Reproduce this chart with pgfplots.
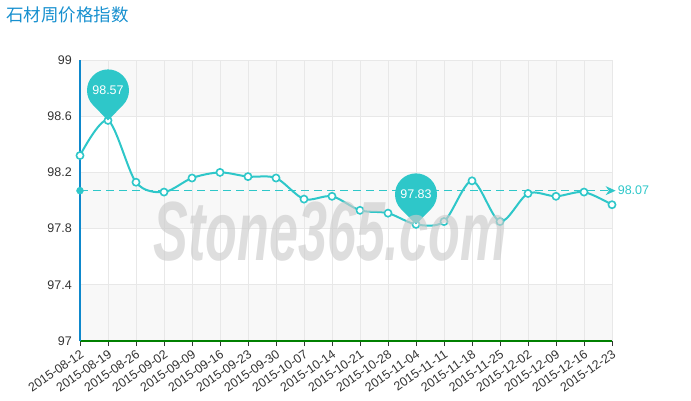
\documentclass[border=0pt]{standalone}
\usepackage{pgfplots}
\pgfplotsset{compat=1.18}
\usetikzlibrary{arrows.meta}
\usepackage{fontspec}
\setmainfont{Liberation Sans}
\newfontfamily\cjk{Noto Sans CJK SC}
\definecolor{turq}{HTML}{2EC7C9}
\definecolor{titleblue}{HTML}{1790CF}
\definecolor{axblue}{HTML}{0E88CC}
\definecolor{axgreen}{HTML}{008000}
\definecolor{gridc}{HTML}{E8E8E8}
\definecolor{bandc}{HTML}{F8F8F8}
\definecolor{labc}{HTML}{333333}
% teardrop pin, tip at the data point
\pgfdeclareplotmark{pin}{%
  \pgfpathmoveto{\pgfpoint{0pt}{0pt}}%
  \pgfpathlineto{\pgfpoint{15pt}{15.3pt}}%
  \pgfpatharc{-44.43}{224.43}{21pt}%
  \pgfpathclose
  \pgfusepathqfill
}
\begin{document}
\begin{tikzpicture}
\node[anchor=west, text=titleblue, font=\cjk\fontsize{17.5}{20}\selectfont, inner sep=0pt] at (6pt,385pt) {石材周价格指数};
\begin{axis}[
  at={(80pt,59pt)}, anchor=south west,
  scale only axis, width=532pt, height=281pt,
  set layers=standard,
  clip=false,
  xmin=0, xmax=19, ymin=97, ymax=99,
  xtick={0,...,19},
  xticklabels={2015-08-12,2015-08-19,2015-08-26,2015-09-02,2015-09-09,2015-09-16,2015-09-23,2015-09-30,2015-10-07,2015-10-14,2015-10-21,2015-10-28,2015-11-04,2015-11-11,2015-11-18,2015-11-25,2015-12-02,2015-12-09,2015-12-16,2015-12-23},
  ytick={97,97.4,97.8,98.2,98.6,99},
  yticklabels={97,97.4,97.8,98.2,98.6,99},
  axis x line*=bottom, axis y line*=left,
  x axis line style={draw=axgreen, line width=2pt},
  y axis line style={draw=axblue, line width=2pt},
  grid=major,
  major grid style={draw=gridc, line width=0.8pt},
  tick align=outside,
  major tick length=5pt,
  xtick style={draw=labc, line width=0.8pt},
  ytick style={draw=none},
  tick label style={text=labc, font=\fontsize{12.5}{14}\selectfont},
  xticklabel style={rotate=35, anchor=north east, inner sep=2pt},
  yticklabel style={inner sep=3pt},
  /pgf/number format/assume math mode=true,
]
\addplot[draw=none, fill=bandc, on layer=axis background] coordinates {(0,98.6) (19,98.6) (19,99) (0,99)} -- cycle;
\addplot[draw=none, fill=bandc, on layer=axis background] coordinates {(0,97.8) (19,97.8) (19,98.2) (0,98.2)} -- cycle;
\addplot[draw=none, fill=bandc, on layer=axis background] coordinates {(0,97) (19,97) (19,97.4) (0,97.4)} -- cycle;
% average line
\addplot[turq, line width=1.3pt, dash pattern=on 8pt off 5pt, -{Stealth[length=10pt,width=9pt]}]
  coordinates {(0,98.07) (19.13,98.07)};
\node[anchor=west, text=turq, inner sep=2pt, font=\fontsize{12.5}{14}\selectfont] at (axis cs:19.13,98.07) {98.07};
\addplot[only marks, mark=*, mark size=3.5pt, turq] coordinates {(0,98.07)};
% weekly index
\addplot[turq, line width=2pt, smooth, mark=*, mark size=3.6pt, mark options={fill=white, draw=turq, line width=1.6pt}]
coordinates {
(0,98.32) (1,98.57) (2,98.13) (3,98.06) (4,98.16) (5,98.20) (6,98.17) (7,98.16)
(8,98.01) (9,98.03) (10,97.93) (11,97.91) (12,97.83) (13,97.85) (14,98.14) (15,97.85)
(16,98.05) (17,98.03) (18,98.06) (19,97.97)
};
% max / min pins
\addplot[only marks, mark=pin, mark options={fill=turq, draw=none},
  point meta=explicit symbolic, nodes near coords,
  every node near coord/.append style={anchor=center, yshift=30pt, text=white, font=\fontsize{12.5}{14}\selectfont}]
coordinates {(1,98.57) [98.57] (12,97.83) [97.83]};
\end{axis}
% watermark
\node[text=gray!40, opacity=0.65, xscale=0.62, font=\fontsize{84}{84}\selectfont\bfseries\itshape] at (330pt,168pt) {Stone365.com};
\pgfresetboundingbox
\useasboundingbox (0,0) rectangle (691pt,400pt);
\end{tikzpicture}
\end{document}
